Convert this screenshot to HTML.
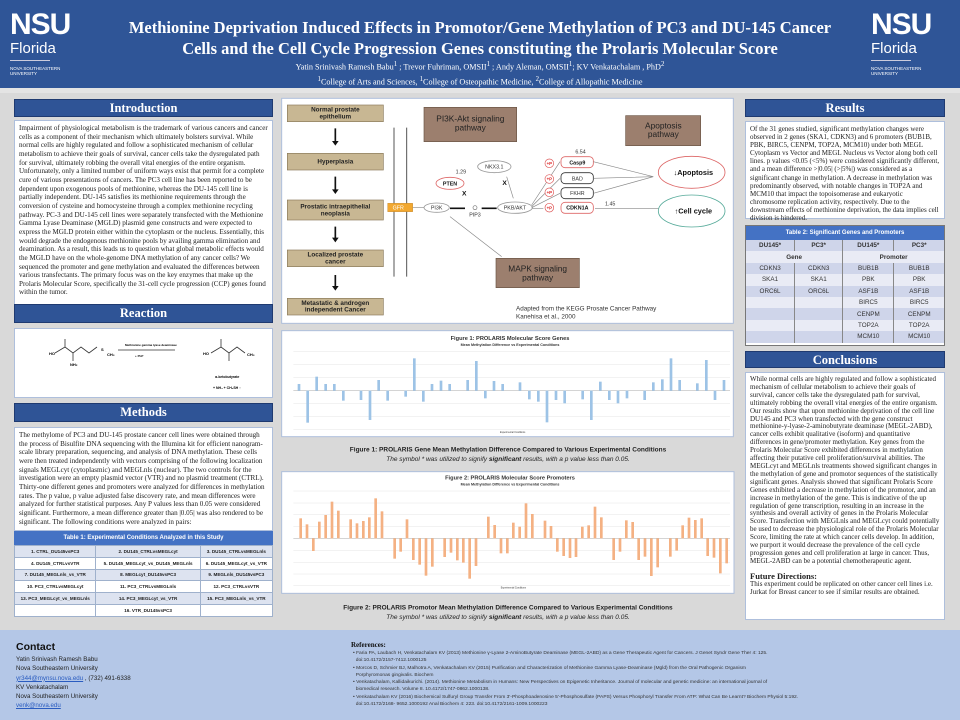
<!DOCTYPE html>
<html><head><meta charset="utf-8"><style>
*{margin:0;padding:0;box-sizing:border-box}
body{width:960px;height:720px;position:relative;overflow:hidden;background:#d9d9d9;font-family:"Liberation Serif",serif}
.a{position:absolute}
.hd{position:absolute;background:#2f5496;color:#fff;font:bold 12.5px "Liberation Serif",serif;text-align:center;line-height:17px;border:1px solid #1f3a70}
.bx{position:absolute;background:#fff;border:1px solid #aebfdc}
.tx{font-size:7.1px;line-height:8.65px;color:#222;padding:3px 4px}
.logo{position:absolute;color:#fff;font-family:"Liberation Sans",sans-serif}
table{border-collapse:collapse;width:100%;font-family:"Liberation Sans",sans-serif}
.t1 td{font-size:4.6px;font-weight:bold;text-align:center;height:11.8px;border:1px solid #9fb1cc;color:#222}
.t2 td{font-size:6.3px;text-align:center;height:11.4px;border-left:1px solid #888;color:#333}
.r{color:#e03030}
</style></head><body>
<div class="a" style="left:0;top:0;width:960px;height:88px;background:#2f5597"></div>
<div class="a" style="left:0;top:88px;width:960px;height:5px;background:#e4e4e4"></div>
<div class="logo" style="left:10px;top:10px;font:bold 30px/30px 'Liberation Sans',sans-serif;letter-spacing:-1px">NSU</div>
<div class="logo" style="left:10px;top:40px;font-size:15px">Florida</div>
<div class="a" style="left:10px;top:60px;width:40px;height:1px;background:#ccd"></div>
<div class="logo" style="left:10px;top:66px;font-size:4.5px;line-height:5px">NOVA SOUTHEASTERN<br>UNIVERSITY</div>
<div class="logo" style="left:871px;top:10px;font:bold 30px/30px 'Liberation Sans',sans-serif;letter-spacing:-1px">NSU</div>
<div class="logo" style="left:871px;top:40px;font-size:15px">Florida</div>
<div class="a" style="left:871px;top:60px;width:40px;height:1px;background:#ccd"></div>
<div class="logo" style="left:871px;top:66px;font-size:4.5px;line-height:5px">NOVA SOUTHEASTERN<br>UNIVERSITY</div>
<div class="a" style="left:100px;top:17px;width:760px;text-align:center;color:#fff;font:bold 16.5px/21px 'Liberation Serif',serif">Methionine Deprivation Induced Effects in Promotor/Gene Methylation of PC3 and DU-145 Cancer<br>Cells and the Cell Cycle Progression Genes constituting the Prolaris Molecular Score</div>
<div class="a" style="left:100px;top:59px;width:760px;text-align:center;color:#fff;font:8.2px/12px 'Liberation Serif',serif">Yatin Srinivash Ramesh Babu<sup>1</sup> ; Trevor Fuhriman, OMSII<sup>1</sup> ; Andy Aleman, OMSII<sup>1</sup>; KV Venkatachalam , PhD<sup>2</sup><br><sup>1</sup>College of Arts and Sciences, <sup>1</sup>College of Osteopathic Medicine, <sup>2</sup>College of Allopathic Medicine</div>

<!-- LEFT -->
<div class="hd" style="left:14px;top:99px;width:259px;height:18px">Introduction</div>
<div class="bx tx" style="left:14px;top:120px;width:259px;height:190px">Impairment of physiological metabolism is the trademark of various cancers and cancer cells as a component of their mechanism which ultimately bolsters survival. While normal cells are highly regulated and follow a sophisticated mechanism of cellular metabolism to achieve their goals of survival, cancer cells take the dysregulated path for survival, ultimately robbing the overall vital energies of the entire organism. Unfortunately, only a limited number of uniform ways exist that permit for a complete cure of various presentations of cancers. The PC3 cell line has been reported to be dependent upon exogenous pools of methionine, whereas the DU-145 cell line is partially independent. DU-145 satisfies its methionine requirements through the conversion of cysteine and homocysteine through a complex methionine recycling pathway. PC-3 and DU-145 cell lines were separately transfected with the Methionine Gamma Lyase Deaminase (MGLD) plasmid gene constructs and were expected to express the MGLD protein either within the cytoplasm or the nucleus. Essentially, this would degrade the endogenous methionine pools by availing gamma elimination and deamination. As a result, this leads us to question what global metabolic effects would the MGLD have on the whole-genome DNA methylation of any cancer cells? We sequenced the promoter and gene methylation and evaluated the differences between various transfectants. The primary focus was on the key enzymes that make up the Prolaris Molecular Score, specifically the 31-cell cycle progression (CCP) genes found within the tumor.</div>
<div class="hd" style="left:14px;top:304px;width:259px;height:19px">Reaction</div>
<div class="bx" style="left:14px;top:328px;width:259px;height:70px">
<svg width="259" height="70" viewBox="0 0 259 70" font-family="Liberation Sans" font-weight="bold" font-size="4">
<g stroke="#333" stroke-width="0.8" fill="none"><path d="M40 24 L50 18 L58 24 L66 18 L74 24 L82 18 M50 18 V10 M58 24 V32"/><path d="M196 24 L206 18 L214 24 L222 18 L230 24 M206 18 V10 M214 24 V32 M103 21 H160"/></g>
<text x="34" y="26">HO</text><text x="86" y="22">S</text><text x="92" y="27">CH₃</text><text x="55" y="37">NH₂</text>
<text x="110" y="17" font-size="3">Methionine gamma lyase deaminase</text><text x="120" y="28" font-size="3">+ PLP</text>
<text x="188" y="26">HO</text><text x="232" y="27">CH₃</text><text x="200" y="49" font-size="3.5">α-ketobutyrate</text><text x="198" y="60" font-size="3.5">+ NH₃ + CH₃SH ↑</text>
</svg></div>
<div class="hd" style="left:14px;top:403px;width:259px;height:19px">Methods</div>
<div class="bx tx" style="left:14px;top:427px;width:259px;height:104px">The methylome of PC3 and DU-145 prostate cancer cell lines were obtained through the process of Bisulfite DNA sequencing with the Illumina kit for efficient nanogram-scale library preparation, sequencing, and analysis of DNA methylation. These cells were then treated independently with vectors comprising of the following localization signals MEGLcyt (cytoplasmic) and MEGLnls (nuclear). The two controls for the investigation were an empty plasmid vector (VTR) and no plasmid treatment (CTRL). Thirty-one different genes and promoters were analyzed for differences in methylation rates. The p value, p value adjusted false discovery rate, and mean differences were analyzed for further statistical purposes. Any P values less than 0.05 were considered significant. Furthermore, a mean difference greater than |0.05| was also rendered to be significant. The following conditions were analyzed in pairs:</div>
<div class="a" style="left:14px;top:531px;width:259px;height:86px;background:#fff">
<div style="background:#4472c4;color:#fff;font:bold 6px/14px 'Liberation Sans',sans-serif;text-align:center">Table 1: Experimental Conditions Analyzed in this Study</div>
<table class="t1">
<tr style="background:#dde3f0"><td>1. CTRL_DU145vsPC3</td><td>2. DU145_CTRLvsMEGLcyt</td><td>3. DU145_CTRLvsMEGLnls</td></tr>
<tr><td>4. DU145_CTRLvsVTR</td><td>5. DU145_MEGLcyt_vs_DU145_MEGLnls</td><td>6. DU145_MEGLcyt_vs_VTR</td></tr>
<tr style="background:#dde3f0"><td>7. DU145_MEGLnls_vs_VTR</td><td>8. MEGLcyt_DU145vsPC3</td><td>9. MEGLnls_DU145vsPC3</td></tr>
<tr><td>10. PC3_CTRLvsMEGLcyt</td><td>11. PC3_CTRLvsMEGLnls</td><td>12. PC3_CTRLvsVTR</td></tr>
<tr style="background:#dde3f0"><td>13. PC3_MEGLcyt_vs_MEGLnls</td><td>14. PC3_MEGLcyt_vs_VTR</td><td>15. PC3_MEGLnls_vs_VTR</td></tr>
<tr><td></td><td>16. VTR_DU145vsPC3</td><td></td></tr>
</table></div>

<!-- FOOTER -->
<div class="a" style="left:0;top:630px;width:960px;height:90px;background:#b4c7e7"></div>
<div class="a" style="left:16px;top:641px;font:bold 10.5px 'Liberation Sans',sans-serif;color:#111">Contact</div>
<div class="a" style="left:16px;top:655px;font:6.2px/9.3px 'Liberation Sans',sans-serif;color:#222">Yatin Srinivash Ramesh Babu<br>Nova Southeastern University<br><span style="color:#2a5cc0;text-decoration:underline">yr344@mynsu.nova.edu</span> , (732) 491-6338<br>KV Venkatachalam<br>Nova Southeastern University<br><span style="color:#2a5cc0;text-decoration:underline">venk@nova.edu</span></div>
<div class="a" style="left:351px;top:641px;font:bold 7px 'Liberation Serif',serif;color:#111">References:</div>
<div class="a" style="left:353px;top:650px;width:570px;font:4.9px/7.3px 'Liberation Sans',sans-serif;color:#333">
• Faria PA, Laubach H, Venkatachalam KV (2013) Methionine γ-Lyase 2-AminoButyrate Deaminase (MEGL-2ABD) as a Gene Therapeutic Agent for Cancers. J Genet Syndr Gene Ther 4: 125.<br>&nbsp;&nbsp;doi:10.4172/2157-7412.1000125<br>
• Morcos D, Schmier BJ, Malhotra A, Venkatachalam KV (2015) Purification and Characterization of Methionine Gamma Lyase-Deaminase (Mgld) from the Oral Pathogenic Organism<br>&nbsp;&nbsp;Porphyromonas gingivalis. Biochem<br>
• Venkatachalam, Kallidaikurichi. (2014). Methionine Metabolism in Humans: New Perspectives on Epigenetic Inheritance. Journal of molecular and genetic medicine: an international journal of<br>&nbsp;&nbsp;biomedical research. Volume 8. 10.4172/1747-0862.1000138.<br>
• Venkatachalam KV (2016) Biochemical Sulfuryl Group Transfer From 3'-Phosphoadenosine 5'-Phosphosulfate (PAPS) Versus Phosphoryl Transfer From ATP: What Can Be Learnt? Biochem Physiol 5:192.<br>&nbsp;&nbsp;doi:10.4172/2168- 9652.1000192 Anal Biochem 4: 223. doi:10.4172/2161-1009.1000223</div>

<!-- PATHWAY -->
<svg class="a" style="left:280px;top:95px" width="460" height="240" viewBox="0 0 1380 720" font-family="Liberation Sans" font-weight="bold">
<rect x="5" y="10" width="1355" height="675" fill="#fff" stroke="#aebfdc" stroke-width="3"/>
<g fill="#c8b793" stroke="#8a7a5a" stroke-width="2"><rect x="22" y="30" width="288" height="50"/><rect x="22" y="175" width="288" height="50"/><rect x="22" y="315" width="288" height="60"/><rect x="22" y="465" width="288" height="50"/><rect x="22" y="610" width="288" height="50"/></g>
<g font-size="19" text-anchor="middle" fill="#222"><text x="166" y="50">Normal prostate</text><text x="166" y="70">epithelium</text><text x="166" y="206">Hyperplasia</text><text x="166" y="340">Prostatic intraepithelial</text><text x="166" y="362">neoplasia</text><text x="166" y="485">Localized prostate</text><text x="166" y="505">cancer</text><text x="166" y="630">Metastatic &amp; androgen</text><text x="166" y="650">independent Cancer</text></g>
<g stroke="#111" stroke-width="5"><path d="M166 100V140M166 245V285M166 395V430M166 540V575"/></g>
<g fill="#111"><path d="M156 138h20l-10 14z M156 283h20l-10 14z M156 428h20l-10 14z M156 573h20l-10 14z"/></g>
<path d="M342 98V545M380 98V545" stroke="#555" stroke-width="3"/>
<g fill="#9c7f6e" stroke="#6a5545" stroke-width="2"><rect x="432" y="37" width="278" height="103"/><rect x="1037" y="62" width="225" height="90"/><rect x="648" y="490" width="250" height="88"/></g>
<g font-size="25" text-anchor="middle" fill="#222" font-weight="normal"><text x="571" y="80">PI3K-Akt signaling</text><text x="571" y="107">pathway</text><text x="1150" y="100">Apoptosis</text><text x="1150" y="126">pathway</text><text x="773" y="530">MAPK signaling</text><text x="773" y="556">pathway</text></g>
<rect x="323" y="325" width="75" height="25" fill="#f2a830" stroke="#b07010"/><text x="338" y="344" font-size="16" fill="#fff" font-weight="normal">GFR</text>
<g fill="#fff" stroke-width="2.5"><ellipse cx="470" cy="338" rx="38" ry="14" stroke="#999"/><ellipse cx="510" cy="265" rx="42" ry="18" stroke="#d66"/><ellipse cx="643" cy="215" rx="50" ry="18" stroke="#999"/><ellipse cx="705" cy="338" rx="52" ry="17" stroke="#999"/><rect x="843" y="185" width="97" height="33" rx="12" stroke="#d66"/><rect x="843" y="233" width="97" height="33" rx="12" stroke="#333"/><rect x="843" y="278" width="97" height="33" rx="12" stroke="#333"/><rect x="843" y="322" width="97" height="33" rx="12" stroke="#d66"/><ellipse cx="1235" cy="232" rx="100" ry="48" stroke="#d66"/><ellipse cx="1235" cy="348" rx="100" ry="48" stroke="#5a9"/></g>
<g font-size="16" text-anchor="middle" fill="#333" font-weight="normal"><text x="470" y="343">PI3K</text><text x="643" y="220">NKX3.1</text><text x="705" y="343">PKB/AKT</text><text x="892" y="256">BAD</text><text x="892" y="300">FKHR</text><text x="585" y="365">PIP3</text></g>
<g font-size="16" text-anchor="middle" fill="#111"><text x="510" y="271">PTEN</text><text x="892" y="208">Casp9</text><text x="892" y="344">CDKN1A</text><text x="1240" y="240" font-size="22">↓Apoptosis</text><text x="1240" y="356" font-size="22">↑Cell cycle</text></g>
<g stroke="#888" stroke-width="2" fill="none"><path d="M940 200L1120 245M940 250L1120 245M940 295L1120 245M945 340H1135M755 330L840 200M755 335L840 250M755 338L840 295M757 340H790M510 365L665 485M398 338H432M680 245L700 310"/></g>
<g stroke="#111" stroke-width="5"><path d="M510 340H555M605 340H650"/></g>
<circle cx="585" cy="338" r="6" fill="#fff" stroke="#777" stroke-width="2"/>
<g fill="#fff" stroke="#d55" stroke-width="2"><circle cx="808" cy="205" r="13"/><circle cx="808" cy="252" r="13"/><circle cx="808" cy="292" r="13"/><circle cx="808" cy="338" r="13"/></g>
<g font-size="13" fill="#d22" text-anchor="middle"><text x="808" y="210">+P</text><text x="808" y="257">+P</text><text x="808" y="297">+P</text><text x="808" y="343">+P</text></g>
<g font-size="16" fill="#333" font-weight="normal"><text x="527" y="236">1.29</text><text x="886" y="176">6.54</text><text x="975" y="332">1.45</text><text x="708" y="646" font-size="19">Adapted from the KEGG Prosate Cancer Pathway</text><text x="708" y="670" font-size="19">Kanehisa et al., 2000</text></g>
<g font-size="20" fill="#111"><text x="546" y="302">X</text><text x="667" y="270">X</text></g>
</svg>

<!-- CHARTS -->
<svg class="a" style="left:280px;top:330px" width="460" height="300" viewBox="0 0 1380 900" font-family="Liberation Sans">
<rect x="5" y="2" width="1355" height="318" fill="#fff" stroke="#aebfdc" stroke-width="3"/>
<rect x="5" y="425" width="1357" height="365" fill="#fff" stroke="#aebfdc" stroke-width="3"/>
<g stroke="#e6e6e6" stroke-width="1.5"><path d="M40 65H1350M40 103H1350M40 143H1350M40 220H1350M40 260H1350M40 298H1350"/><path d="M40 483H1350M40 519H1350M40 554H1350M40 590H1350M40 661H1350M40 697H1350M40 732H1350M40 767H1350"/></g>
<path d="M40 182H1350M40 625H1350" stroke="#bbb" stroke-width="2"/>
<g fill="#333" text-anchor="middle"><text x="690" y="30" font-size="17" font-weight="bold">Figure 1: PROLARIS Molecular Score Genes</text><text x="690" y="48" font-size="11" font-weight="bold">Mean Methylation Difference vs Experimental Conditions</text><text x="690" y="448" font-size="17" font-weight="bold">Figure 2: PROLARIS Molecular Score Promoters</text><text x="690" y="467" font-size="11" font-weight="bold">Mean Methylation Difference vs Experimental Conditions</text>
<text x="698" y="309" font-size="7">Experimental Conditions</text><text x="700" y="776" font-size="7">Experimental Conditions</text></g>
<g fill="#9dc3e6">
<rect x="53" y="162" width="8" height="20"/><rect x="79" y="182" width="8" height="96"/><rect x="106" y="140" width="8" height="42"/><rect x="133" y="162" width="8" height="20"/><rect x="159" y="162" width="8" height="20"/><rect x="186" y="182" width="8" height="30"/><rect x="239" y="182" width="8" height="28"/><rect x="266" y="182" width="8" height="88"/><rect x="292" y="150" width="8" height="32"/><rect x="319" y="182" width="8" height="30"/><rect x="373" y="182" width="8" height="18"/><rect x="399" y="85" width="8" height="97"/><rect x="426" y="182" width="8" height="33"/><rect x="452" y="162" width="8" height="20"/><rect x="479" y="152" width="8" height="30"/><rect x="505" y="162" width="8" height="20"/><rect x="559" y="150" width="8" height="32"/><rect x="585" y="93" width="8" height="89"/><rect x="612" y="182" width="8" height="23"/><rect x="638" y="153" width="8" height="29"/><rect x="664" y="162" width="8" height="20"/><rect x="716" y="157" width="8" height="25"/><rect x="744" y="182" width="8" height="26"/><rect x="771" y="182" width="8" height="33"/><rect x="797" y="182" width="8" height="95"/><rect x="824" y="182" width="8" height="28"/><rect x="850" y="182" width="8" height="38"/><rect x="904" y="182" width="8" height="26"/><rect x="930" y="182" width="8" height="88"/><rect x="957" y="155" width="8" height="27"/><rect x="984" y="182" width="8" height="28"/><rect x="1010" y="182" width="8" height="38"/><rect x="1037" y="182" width="8" height="23"/><rect x="1090" y="182" width="8" height="28"/><rect x="1116" y="157" width="8" height="25"/><rect x="1143" y="148" width="8" height="34"/><rect x="1169" y="85" width="8" height="97"/><rect x="1195" y="150" width="8" height="32"/><rect x="1248" y="160" width="8" height="22"/><rect x="1275" y="90" width="8" height="92"/><rect x="1301" y="182" width="8" height="28"/><rect x="1328" y="150" width="8" height="32"/>
</g>
<g fill="#f4b183">
<rect x="58" y="565" width="8" height="60"/><rect x="77" y="583" width="8" height="42"/><rect x="96" y="625" width="8" height="38"/><rect x="114" y="575" width="8" height="50"/><rect x="133" y="555" width="8" height="70"/><rect x="152" y="515" width="8" height="110"/><rect x="171" y="542" width="8" height="83"/><rect x="208" y="568" width="8" height="57"/><rect x="227" y="580" width="8" height="45"/><rect x="246" y="573" width="8" height="52"/><rect x="264" y="562" width="8" height="63"/><rect x="283" y="505" width="8" height="120"/><rect x="302" y="544" width="8" height="81"/><rect x="340" y="625" width="8" height="61"/><rect x="358" y="625" width="8" height="40"/><rect x="377" y="568" width="8" height="57"/><rect x="396" y="625" width="8" height="65"/><rect x="415" y="625" width="8" height="79"/><rect x="434" y="625" width="8" height="112"/><rect x="453" y="625" width="8" height="85"/><rect x="490" y="625" width="8" height="56"/><rect x="509" y="625" width="8" height="43"/><rect x="528" y="625" width="8" height="66"/><rect x="546" y="625" width="8" height="73"/><rect x="565" y="625" width="8" height="121"/><rect x="584" y="625" width="8" height="83"/><rect x="621" y="560" width="8" height="65"/><rect x="640" y="585" width="8" height="40"/><rect x="659" y="625" width="8" height="45"/><rect x="678" y="625" width="8" height="45"/><rect x="696" y="578" width="8" height="47"/><rect x="715" y="590" width="8" height="35"/><rect x="734" y="520" width="8" height="105"/><rect x="753" y="552" width="8" height="73"/><rect x="791" y="572" width="8" height="53"/><rect x="809" y="588" width="8" height="37"/><rect x="828" y="625" width="8" height="40"/><rect x="847" y="625" width="8" height="53"/><rect x="866" y="625" width="8" height="59"/><rect x="884" y="625" width="8" height="56"/><rect x="903" y="590" width="8" height="35"/><rect x="922" y="586" width="8" height="39"/><rect x="941" y="530" width="8" height="95"/><rect x="960" y="562" width="8" height="63"/><rect x="997" y="625" width="8" height="65"/><rect x="1016" y="625" width="8" height="40"/><rect x="1035" y="571" width="8" height="54"/><rect x="1054" y="576" width="8" height="49"/><rect x="1072" y="625" width="8" height="65"/><rect x="1091" y="625" width="8" height="55"/><rect x="1110" y="625" width="8" height="113"/><rect x="1129" y="625" width="8" height="87"/><rect x="1167" y="625" width="8" height="55"/><rect x="1186" y="625" width="8" height="37"/><rect x="1204" y="586" width="8" height="39"/><rect x="1223" y="563" width="8" height="62"/><rect x="1242" y="570" width="8" height="55"/><rect x="1261" y="565" width="8" height="60"/><rect x="1279" y="625" width="8" height="53"/><rect x="1298" y="625" width="8" height="58"/><rect x="1317" y="625" width="8" height="105"/><rect x="1336" y="625" width="8" height="75"/>
</g>
<g fill="#222" text-anchor="middle" font-size="19.5"><text x="684" y="365" font-weight="bold">Figure 1: PROLARIS Gene Mean Methylation Difference Compared to Various Experimental Conditions</text><text x="684" y="393" font-style="italic">The symbol * was utilized to signify <tspan font-weight="bold">significant</tspan> results, with a p value less than 0.05.</text>
<text x="684" y="839" font-weight="bold">Figure 2: PROLARIS Promotor Mean Methylation Difference Compared to Various Experimental Conditions</text><text x="684" y="867" font-style="italic">The symbol * was utilized to signify <tspan font-weight="bold">significant</tspan> results, with a p value less than 0.05.</text></g>
</svg>

<!-- RIGHT -->
<div class="hd" style="left:745px;top:99px;width:200px;height:18px">Results</div>
<div class="bx tx" style="left:745px;top:121px;width:200px;height:98px;font-size:7px;line-height:8.1px">Of the 31 genes studied, significant methylation changes were observed in 2 genes (SKA1, CDKN3) and 6 promoters (BUB1B, PBK, BIRC5, CENPM, TOP2A, MCM10) under both MEGL Cytoplasm vs Vector and MEGL Nucleus vs Vector along both cell lines. p values &lt;0.05 (&lt;5%) were considered significantly different, and a mean difference &gt;|0.05| (&gt;|5%|) was considered as a significant change in methylation. A decrease in methylation was predominantly observed, with notable changes in TOP2A and MCM10 that impact the topoisomerase and eukaryotic chromosome replication activity, respectively. Due to the downstream effects of methionine deprivation, the data implies cell division is hindered.</div>
<div class="a" style="left:745px;top:225px;width:200px;height:121px;background:#fff;border:1px solid #777;overflow:hidden">
<div style="background:#4472c4;color:#fff;font:bold 6px/14px 'Liberation Sans',sans-serif;text-align:center">Table 2: Significant Genes and Promoters</div>
<table class="t2">
<tr style="background:#cfd5ea;font-weight:bold"><td style="font-weight:bold;border-left:none">DU145*</td><td style="font-weight:bold">PC3*</td><td style="font-weight:bold">DU145*</td><td style="font-weight:bold">PC3*</td></tr>
<tr style="background:#e9ebf5"><td colspan="2" style="font-weight:bold;border-left:none">Gene</td><td colspan="2" style="font-weight:bold">Promoter</td></tr>
<tr style="background:#cfd5ea"><td style="border-left:none">CDKN3</td><td>CDKN3</td><td class="r">BUB1B</td><td class="r">BUB1B</td></tr>
<tr style="background:#e9ebf5"><td class="r" style="border-left:none">SKA1</td><td class="r">SKA1</td><td class="r">PBK</td><td class="r">PBK</td></tr>
<tr style="background:#cfd5ea"><td class="r" style="border-left:none">ORC6L</td><td class="r">ORC6L</td><td>ASF1B</td><td>ASF1B</td></tr>
<tr style="background:#e9ebf5"><td style="border-left:none"></td><td></td><td class="r">BIRC5</td><td class="r">BIRC5</td></tr>
<tr style="background:#cfd5ea"><td style="border-left:none"></td><td></td><td class="r">CENPM</td><td class="r">CENPM</td></tr>
<tr style="background:#e9ebf5"><td style="border-left:none"></td><td></td><td class="r">TOP2A</td><td class="r">TOP2A</td></tr>
<tr style="background:#cfd5ea"><td style="border-left:none"></td><td></td><td class="r">MCM10</td><td class="r">MCM10</td></tr>
</table></div>
<div class="hd" style="left:745px;top:351px;width:200px;height:17px">Conclusions</div>
<div class="bx tx" style="left:745px;top:372px;width:200px;height:248px;font-size:7px;line-height:7.9px">While normal cells are highly regulated and follow a sophisticated mechanism of cellular metabolism to achieve their goals of survival, cancer cells take the dysregulated path for survival, ultimately robbing the overall vital energies of the entire organism. Our results show that upon methionine deprivation of the cell line DU145 and PC3 when transfected with the gene construct methionine-y-lyase-2-aminobutyrate deaminase (MEGL-2ABD), cancer cells exhibit qualitative (isoform) and quantitative differences in gene/promoter methylation. Key genes from the Prolaris Molecular Score exhibited differences in methylation affecting their putative cell proliferation/survival abilities. The MEGLcyt and MEGLnls treatments showed significant changes in the methylation of gene and promotor sequences of the statistically significant genes. Analysis showed that significant Prolaris Score Genes exhibited a decrease in methylation of the promotor, and an increase in methylation of the gene. This is indicative of the up regulation of gene transcription, resulting in an increase in the synthesis and overall activity of genes in the Prolaris Molecular Score. Transfection with MEGLnls and MEGLcyt could potentially be used to decrease the physiological role of the Prolaris Molecular Score, limiting the rate at which cancer cells develop. In addition, we purport it would decrease the prevalence of the cell cycle progression genes and cell proliferation at large in cancer. Thus, MEGL-2ABD can be a potential chemotherapeutic agent.<div style="font-weight:bold;font-size:8.5px;margin-top:5px;line-height:10px">Future Directions:</div>This experiment could be replicated on other cancer cell lines i.e. Jurkat for Breast cancer to see if similar results are obtained.</div>
</body></html>
